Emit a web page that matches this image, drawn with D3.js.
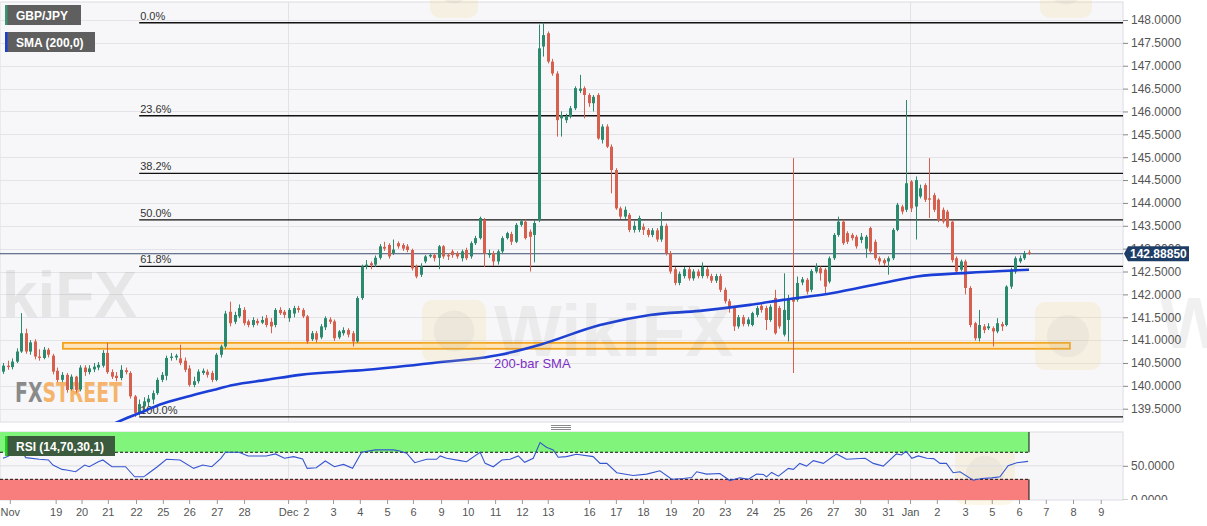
<!DOCTYPE html>
<html><head><meta charset="utf-8">
<script src="https://cdn.jsdelivr.net/npm/d3@7/dist/d3.min.js"></script>
<style>body{margin:0;background:#fff;}svg{display:block;font-family:"Liberation Sans",Arial,sans-serif;}</style>
</head><body><svg id="c" width="1207" height="526"></svg>
<script>
// ---- DATA ----
const pair = "GBP/JPY";
// 4H candles: [open, high, low, close]
const ohlc = [
[140.31,140.50,140.26,140.44],[140.44,140.55,140.35,140.41],[140.41,140.60,140.36,140.53],[140.53,140.82,140.50,140.75],
[140.75,141.59,140.72,141.15],[141.15,141.25,140.70,140.75],[140.75,141.00,140.68,140.95],[140.97,141.02,140.58,140.64],
[140.64,140.80,140.55,140.61],[140.61,140.85,140.58,140.79],[140.79,140.83,140.62,140.68],[140.66,140.70,140.25,140.31],
[140.33,140.40,140.08,140.13],[140.13,140.30,140.08,140.24],[140.24,140.28,139.85,139.91],[139.93,140.25,139.90,140.20],
[140.20,140.22,139.85,139.91],[139.92,140.45,139.88,140.40],[140.40,140.45,140.22,140.30],[140.30,140.45,140.25,140.38],
[140.36,140.50,140.30,140.42],[140.40,140.52,140.34,140.46],[140.44,140.78,140.40,140.72],[140.72,140.94,140.26,140.30],
[140.30,140.36,140.15,140.20],[140.22,140.30,140.10,140.17],[140.17,140.45,140.12,140.35],[140.34,140.40,140.25,140.30],
[140.28,140.32,139.72,139.77],[139.77,139.80,139.32,139.41],[139.42,139.70,139.35,139.60],[139.55,139.75,139.45,139.66],
[139.64,139.80,139.55,139.72],[139.70,139.90,139.60,139.84],[139.84,140.18,139.80,140.13],[140.13,140.30,140.08,140.24],
[140.22,140.66,140.12,140.61],[140.61,140.72,140.55,140.64],[140.62,140.70,140.56,140.66],[140.60,140.90,140.45,140.50],
[140.55,140.62,140.30,140.35],[140.38,140.45,139.98,140.02],[140.02,140.20,139.97,140.10],[140.10,140.36,140.05,140.31],
[140.28,140.38,140.24,140.33],[140.31,140.36,140.18,140.24],[140.28,140.33,140.08,140.13],[140.13,140.72,140.10,140.68],
[140.68,140.90,140.62,140.86],[140.86,141.64,140.82,141.58],[141.62,141.84,141.30,141.37],[141.40,141.62,141.35,141.55],
[141.52,141.78,141.48,141.70],[141.66,141.72,141.32,141.37],[141.41,141.45,141.28,141.33],[141.33,141.50,141.28,141.44],
[141.42,141.47,141.32,141.37],[141.38,141.52,141.35,141.44],[141.48,141.55,141.28,141.33],[141.40,141.48,141.15,141.30],
[141.33,141.70,141.28,141.66],[141.66,141.72,141.55,141.59],[141.62,141.66,141.48,141.55],[141.48,141.70,141.40,141.66],
[141.58,141.75,141.50,141.70],[141.70,141.75,141.60,141.66],[141.66,141.70,141.48,141.52],[141.52,141.55,140.92,140.97],
[141.02,141.20,140.98,141.15],[141.15,141.20,140.95,141.01],[141.06,141.35,141.02,141.30],[141.28,141.52,141.22,141.48],
[141.45,141.50,141.35,141.40],[141.41,141.45,140.98,141.04],[141.06,141.22,141.02,141.19],[141.15,141.28,141.10,141.22],
[141.22,141.26,141.06,141.12],[141.15,141.20,140.86,140.97],[140.97,141.96,140.94,141.92],[141.92,142.65,141.88,142.61],
[142.61,142.75,142.55,142.65],[142.68,142.72,142.55,142.64],[142.65,142.85,142.60,142.80],[142.80,143.10,142.76,143.05],
[143.04,143.15,142.95,143.00],[143.08,143.12,142.78,142.83],[142.90,143.20,142.86,142.98],[143.12,143.16,143.00,143.05],
[143.08,143.12,142.95,143.00],[143.05,143.10,142.92,142.97],[142.97,143.00,142.52,142.57],[142.61,142.65,142.35,142.39],
[142.43,142.68,142.38,142.61],[142.72,142.86,142.68,142.83],[142.83,142.90,142.80,142.86],[142.86,142.90,142.72,142.79],
[142.80,143.08,142.55,143.05],[143.05,143.08,142.78,142.83],[142.86,142.90,142.75,142.83],[142.94,142.98,142.80,142.86],
[142.90,142.94,142.78,142.83],[142.79,142.98,142.72,142.94],[142.97,143.02,142.75,142.79],[142.83,143.16,142.78,143.12],
[143.12,143.28,143.08,143.23],[143.23,143.70,143.20,143.67],[143.63,143.67,142.60,142.90],[142.86,142.98,142.80,142.90],
[142.90,142.95,142.62,142.72],[142.72,142.98,142.65,142.94],[142.94,143.27,142.90,143.23],[143.23,143.37,143.20,143.34],
[143.32,143.37,143.08,143.15],[143.15,143.56,143.12,143.52],[143.52,143.64,143.48,143.60],[143.59,143.64,143.20,143.23],
[143.37,143.42,142.50,143.26],[143.30,143.62,142.70,143.56],[143.63,147.90,143.58,147.38],[147.42,147.94,147.20,147.67],
[147.71,147.75,147.05,147.09],[147.09,147.15,146.78,146.83],[146.83,146.88,145.45,145.81],[145.85,146.00,145.45,145.92],
[145.81,145.95,145.75,145.89],[145.89,146.12,145.85,146.07],[146.07,146.55,146.03,146.51],[146.45,146.80,146.40,146.50],
[146.51,146.55,145.85,146.36],[146.36,146.40,146.10,146.18],[146.18,146.36,146.00,146.32],[146.36,146.40,145.38,145.41],
[145.38,145.72,145.30,145.67],[145.67,145.72,145.20,145.23],[145.23,145.28,144.21,144.72],[144.72,144.76,143.85,143.88],
[143.88,143.92,143.65,143.70],[143.70,143.92,143.65,143.85],[143.74,143.78,143.36,143.41],[143.41,143.60,143.35,143.50],
[143.41,143.72,143.36,143.67],[143.48,143.55,143.30,143.41],[143.41,143.45,143.25,143.30],[143.30,143.45,143.25,143.40],
[143.40,143.45,143.15,143.20],[143.20,143.80,143.15,143.50],[143.50,143.55,142.85,142.90],[142.90,142.95,142.45,142.50],
[142.55,142.60,142.20,142.25],[142.25,142.50,142.20,142.45],[142.40,142.60,142.35,142.55],[142.55,142.60,142.30,142.35],
[142.35,142.55,142.30,142.50],[142.50,142.55,142.35,142.40],[142.40,142.70,142.35,142.60],[142.55,142.60,142.35,142.40],
[142.40,142.45,142.25,142.30],[142.30,142.45,142.25,142.40],[142.40,142.45,142.05,142.10],[142.10,142.15,141.80,141.85],
[141.85,141.90,141.60,141.70],[141.70,141.75,141.20,141.30],[141.30,141.55,141.25,141.50],[141.50,141.55,141.30,141.35],
[141.35,141.50,141.30,141.45],[141.33,141.62,141.30,141.59],[141.55,141.75,141.50,141.70],[141.75,141.80,141.60,141.66],
[141.70,141.75,141.22,141.44],[141.44,141.78,141.40,141.73],[141.92,142.10,141.12,141.15],[141.70,141.75,141.25,141.30],
[141.12,142.46,141.08,141.66],[141.44,141.99,140.97,141.92],[141.92,144.98,140.28,141.84],[141.88,142.39,141.84,142.25],
[142.26,142.38,142.20,142.33],[142.32,142.36,142.00,142.06],[142.10,142.55,142.05,142.51],[142.50,142.68,142.46,142.61],
[142.57,142.61,142.30,142.46],[142.54,142.58,142.00,142.17],[142.28,142.83,142.24,142.79],[142.79,143.34,142.75,143.30],
[143.30,143.70,143.26,143.59],[143.59,143.63,143.08,143.12],[143.34,143.38,143.10,143.15],[143.30,143.34,143.18,143.23],
[143.26,143.30,143.00,143.05],[143.19,143.34,143.12,143.26],[143.00,143.30,142.80,143.26],[143.45,143.48,142.90,142.94],
[143.15,143.20,142.75,142.79],[142.79,142.83,142.65,142.72],[142.75,142.79,142.62,142.68],[142.72,142.83,142.43,142.79],
[142.79,143.45,142.75,143.41],[143.41,144.00,143.38,143.96],[143.92,143.96,143.75,143.81],[143.85,146.25,143.80,144.43],
[144.47,144.50,143.80,143.88],[143.92,144.58,143.20,144.50],[144.14,144.40,144.10,144.32],[144.39,144.43,144.02,144.07],
[144.10,144.98,143.67,144.07],[144.17,144.22,143.80,143.85],[144.07,144.10,143.58,143.63],[143.85,143.90,143.55,143.59],
[143.81,143.85,143.45,143.48],[143.59,143.63,142.70,142.75],[142.79,142.83,142.45,142.50],[142.54,142.76,142.50,142.72],
[142.72,142.76,142.00,142.14],[142.14,142.18,141.28,141.33],[141.37,141.40,140.99,141.04],[141.04,141.66,140.97,141.33],
[141.30,141.35,141.15,141.22],[141.26,141.37,141.22,141.30],[141.26,141.30,140.86,141.19],[141.19,141.48,141.15,141.37],
[141.35,141.40,141.20,141.30],[141.33,142.20,141.30,142.17],[142.17,142.58,142.12,142.54],[142.50,142.83,142.45,142.79],
[142.72,142.85,142.68,142.79],[142.79,142.95,142.75,142.90],[142.92,142.97,142.86,142.8885]
];
// 200-bar SMA readings (candle index, value)
const smaIdx = [22,25.3,30.2,34.6,40.5,46.3,50.7,58.1,65.4,80.2,94.7,109.5,118.3,131.5,142.5,153.5,164.5,171.8,182.8,193.8,201.3,212.3,226];
const smaVal = [139.05,139.21,139.41,139.59,139.76,139.91,140.02,140.13,140.24,140.35,140.50,140.68,140.90,141.33,141.55,141.64,141.77,141.88,142.03,142.25,142.39,142.47,142.54];
// RSI(14) readings (candle index, value)
const rsiIdx = [0,1,4,5,8,10,11,13,14,16,18,19,21,22,24,27,29,31,32,34,36,39,42,44,46,48,49,52,54,58,60,62,64,66,67,69,71,73,75,77,79,82,86,87.4,
 88.9,90.7,93.3,95.5,96.3,97.7,100.7,102.1,105.1,106.2,108,109.9,111.7,113.5,114.9,116.8,118.3,119.7,121.2,122.3,124.1,126.3,130,131.5,133,135.2,138.8,141.8,144.7,147.3,149.9,151.7,152.8,155,157.9,160.1,162.3,164.2,166,167.5,168.2,169.3,170.8,173,174.1,175.5,
 177,178.5,180.7,183.6,185.8,189.9,191.7,193.9,196.8,197.9,198.9,200.2,201.6,203.5,205,206.4,207.8,209.3,210.8,213.7,215.6,217.8,219.6,221.4,223.3,225.8];
const rsiVal = [61.1,63.6,74.5,62.1,59.6,58.6,51.1,44.7,43.7,41.2,51.1,48.6,56.1,58.6,48.6,48.6,33.7,33.7,38.7,48.6,59.6,58.6,46.2,51.1,48.6,61.1,70,70,64.6,64.6,67.6,61.1,63.6,60.1,46.2,47.2,57.1,48.6,52.1,46.2,70,73.5,73.5,72,
 68.6,54.6,59.6,59.6,64.6,61.1,57.6,56.1,70,53.6,48.6,58.6,59.6,64.6,55.1,61.1,84.3,77.5,73.5,62.6,63.6,67.1,63.6,53.6,53.6,39.7,35.7,37.7,42.7,30.2,31.2,32.7,41.2,37.7,38.7,28.2,32.2,30.2,37.7,37.2,33.7,40.2,34.7,46.2,44.7,53.6,
 49.6,57.6,53.6,67.6,59.6,61.1,53.6,49.6,67.6,66.1,71.5,61.1,64.6,61.1,60.6,53.6,53.6,39.7,41.2,28.7,31.2,32.2,33.7,50.1,54.6,56.6];
const fibRatios = [0, 0.236, 0.382, 0.5, 0.618, 1];
const supportZone = [140.81, 140.94];
const priceTicks = d3.range(139.5, 148.001, 0.5);
const rsiTicks = [0, 50];
const rsiBands = [30, 70];
const xTickLabels = ["Nov","19","20","21","22","25","26","27","28","Dec","2","3","4","5","6","9","10","11","12","13","16","17","18","19","20","23","24","25","26","27","30","31","Jan","2","3","5","6","7","8","9"];
const xTickIdx = [1.5,11.6,17.3,23.1,29.3,35.2,41.0,47.1,53.1,62.8,66.7,72.7,78.6,84.6,90.3,96.5,102.4,108.4,114.3,120.0,129.1,135.0,141.0,147.1,153.1,159.0,165.0,170.9,176.9,182.8,188.8,194.9,199.8,205.7,211.9,217.8,223.8,229.7,235.7,241.8];
const monthLines = ["Dec","Jan"];

// ---- LAYOUT ----
const svg = d3.select("#c");
const P = {l:0, r:1123, t:2, b:422};
const R = {t:432, b:500};
const x = d3.scaleLinear().domain([0, ohlc.length-1]).range([3, 1029]);
const y = d3.scaleLinear().domain([139.5, 148]).range([408.7, 20]);
const yR = d3.scaleLinear().domain([0, 100]).range([499.6, 432]);
const UP = "#2b8a6e", DN = "#d6604d";

svg.append("rect").attr("width",1207).attr("height",526).attr("fill","#fff");
svg.append("rect").attr("x",P.l).attr("y",P.t).attr("width",P.r-P.l).attr("height",P.b-P.t).attr("fill","#f7f7f9").attr("stroke","#dcdce4");
svg.append("rect").attr("x",P.l).attr("y",R.t).attr("width",P.r-P.l).attr("height",R.b-R.t).attr("fill","#f7f7f9").attr("stroke","#dcdce4");

const defs = svg.append("defs");
defs.append("clipPath").attr("id","cp").append("rect").attr("x",P.l).attr("y",P.t).attr("width",P.r-P.l).attr("height",P.b-P.t);
defs.append("clipPath").attr("id","cr").append("rect").attr("x",P.l).attr("y",R.t).attr("width",P.r-P.l).attr("height",R.b-R.t);
defs.append("clipPath").attr("id","ca").append("rect").attr("x",1123).attr("y",R.t-8).attr("width",90).attr("height",R.b-R.t+8);

// gridlines
const main = svg.append("g").attr("clip-path","url(#cp)");
main.selectAll("line.g").data(priceTicks).join("line")
  .attr("x1",P.l).attr("x2",P.r).attr("y1",d=>Math.round(y(d))+0.5).attr("y2",d=>Math.round(y(d))+0.5)
  .attr("stroke","#e4e4e8");
const monthIdx = monthLines.map(m => xTickIdx[xTickLabels.indexOf(m)]);
main.selectAll("line.v").data(monthIdx).join("line")
  .attr("x1",d=>Math.round(x(d))+0.5).attr("x2",d=>Math.round(x(d))+0.5).attr("y1",P.t).attr("y2",P.b).attr("stroke","#e2e2e6");

// FXSTREET logo
const fx = main.append("text").attr("x",15).attr("y",402).attr("font-family","'DejaVu Sans Condensed','DejaVu Sans',sans-serif")
  .attr("font-weight","bold").attr("font-size",27).attr("textLength",107).attr("lengthAdjust","spacingAndGlyphs");
fx.append("tspan").attr("fill","#8a8a8a").text("FX");
fx.append("tspan").attr("fill","#f5b46c").text("STREET");

// support zone
main.append("rect").attr("x",x(13.2)).attr("width",x(235)-x(13.2))
  .attr("y",y(supportZone[1])).attr("height",y(supportZone[0])-y(supportZone[1]))
  .attr("fill","#fde6bd").attr("stroke","#f4a21c").attr("stroke-width",1.8);

// fibonacci
const hi = d3.max(ohlc, d=>d[1]), lo = d3.min(ohlc, d=>d[2]);
const fib = fibRatios.map(r => ({r, v: hi - r*(hi-lo)}));
const fibX0 = x(30);
main.selectAll("line.fib").data(fib).join("line")
  .attr("x1",fibX0).attr("x2",P.r).attr("y1",d=>y(d.v)).attr("y2",d=>y(d.v)).attr("stroke","#111").attr("stroke-width",1.3);
main.selectAll("text.fib").data(fib).join("text")
  .attr("x",fibX0+1).attr("y",d=>y(d.v)-3).attr("font-size",11).attr("fill","#333")
  .text(d=>d3.format(".1%")(d.r));

// current price line
const last = ohlc[ohlc.length-1][3];
main.append("line").attr("x1",P.l).attr("x2",P.r).attr("y1",y(last)).attr("y2",y(last)).attr("stroke","#3c4e6e").attr("stroke-width",1);

// candles
const cg = main.append("g");
cg.selectAll("line.w").data(ohlc).join("line")
  .attr("x1",(d,i)=>Math.round(x(i))+0.5).attr("x2",(d,i)=>Math.round(x(i))+0.5)
  .attr("y1",d=>y(d[1])).attr("y2",d=>y(d[2])).attr("stroke",d=>d[3]>=d[0]?UP:DN).attr("stroke-width",1);
cg.selectAll("rect.b").data(ohlc).join("rect")
  .attr("x",(d,i)=>Math.round(x(i))-1).attr("width",3)
  .attr("y",d=>y(Math.max(d[0],d[3]))).attr("height",d=>Math.max(1,Math.abs(y(d[0])-y(d[3]))))
  .attr("fill",d=>d[3]>=d[0]?UP:DN);

// SMA
const smaPts = smaIdx.map((v,i)=>[v, smaVal[i]]);
main.append("path").datum(smaPts)
  .attr("d", d3.line().x(d=>x(d[0])).y(d=>y(d[1])).curve(d3.curveMonotoneX))
  .attr("fill","none").attr("stroke","#1b3fd6").attr("stroke-width",2.6);
main.append("text").attr("x",494).attr("y",368).attr("font-size",13).attr("fill","#7c2fc4").text("200-bar SMA");

// watermarks
const wm = svg.append("g").attr("pointer-events","none");
wm.append("text").attr("x",137).attr("y",317).attr("text-anchor","end").attr("font-size",64).attr("font-weight","bold").attr("fill","#777").attr("opacity",0.13).text("WikiFX");
[[422,300,64,62],[1035,302,66,68],[430,-42,48,60],[1040,-42,52,60],[955,445,60,60]].forEach(b=>{
  wm.append("rect").attr("x",b[0]).attr("y",b[1]).attr("width",b[2]).attr("height",b[3]).attr("rx",10).attr("fill","#f2cf6a").attr("opacity",0.16);
  wm.append("circle").attr("cx",b[0]+b[2]/2).attr("cy",b[1]+b[3]/2).attr("r",b[2]*0.32).attr("fill","#999").attr("opacity",0.1);
});
wm.append("text").attr("x",494).attr("y",356).attr("font-size",72).attr("font-weight","bold").attr("fill","#777").attr("opacity",0.09).text("WikiFX");
wm.append("text").attr("x",1160).attr("y",348).attr("font-size",72).attr("font-weight","bold").attr("fill","#777").attr("opacity",0.1).text("W");

// price axis
const ay = svg.append("g").attr("transform",`translate(${P.r},0)`)
  .call(d3.axisRight(y).tickValues(priceTicks).tickFormat(d3.format(".4f")).tickSize(5).tickPadding(3));
ay.select(".domain").remove();
ay.selectAll("line").attr("stroke","#888");
ay.selectAll("text").attr("font-size",12).attr("fill","#555").attr("font-family","'Liberation Sans',Arial,sans-serif");

// price label
const ly = y(last);
svg.append("path").attr("d",`M${P.r+1},${ly} L${P.r+5},${ly-7.5} L${P.r+66},${ly-7.5} L${P.r+66},${ly+7.5} L${P.r+5},${ly+7.5} Z`).attr("fill","#1d3c66");
svg.append("text").attr("x",P.r+7).attr("y",ly+4.5).attr("font-size",12).attr("font-weight","bold").attr("fill","#fff").text(d3.format(".5f")(last));

// legends
function legend(x0,y0,w,txt,bar){
  svg.append("rect").attr("x",x0).attr("y",y0).attr("width",w).attr("height",20).attr("fill","#5f5f5f");
  svg.append("rect").attr("x",x0).attr("y",y0).attr("width",2.5).attr("height",20).attr("fill",bar);
  svg.append("text").attr("x",x0+11).attr("y",y0+14.5).attr("font-size",12).attr("font-weight","bold").attr("fill","#fff").text(txt);
}
legend(5,5,76,pair,"#3d9470");
legend(5,32,90,"SMA (200,0)","#1b3fd6");

// divider handle
[425.5,427.5,429.5].forEach(v=>svg.append("line").attr("x1",551).attr("x2",571).attr("y1",v).attr("y2",v).attr("stroke","#8a8a8a"));

// RSI panel
const rg = svg.append("g").attr("clip-path","url(#cr)");
rg.append("line").attr("x1",P.l).attr("x2",P.r).attr("y1",yR(50)).attr("y2",yR(50)).attr("stroke","#dedee3");
rg.selectAll("line.v").data(monthIdx).join("line")
  .attr("x1",d=>Math.round(x(d))+0.5).attr("x2",d=>Math.round(x(d))+0.5).attr("y1",R.t).attr("y2",R.b).attr("stroke","#e2e2e6");
const zx1 = x(ohlc.length-1);
rg.append("rect").attr("x",0).attr("y",yR(100)).attr("width",zx1).attr("height",yR(rsiBands[1])-yR(100)).attr("fill","#80f47b");
rg.append("rect").attr("x",0).attr("y",yR(rsiBands[0])).attr("width",zx1).attr("height",R.b-yR(rsiBands[0])).attr("fill","#f87e7e");
rg.selectAll("line.band").data(rsiBands).join("line")
  .attr("x1",0).attr("x2",zx1).attr("y1",d=>yR(d)).attr("y2",d=>yR(d)).attr("stroke","#111").attr("stroke-dasharray","3,2");
rg.append("line").attr("x1",zx1).attr("x2",zx1).attr("y1",yR(100)).attr("y2",yR(rsiBands[1])).attr("stroke","#111");
rg.append("line").attr("x1",zx1).attr("x2",zx1).attr("y1",yR(rsiBands[0])).attr("y2",R.b).attr("stroke","#111");
const rsiPts = rsiIdx.map((v,i)=>[v, rsiVal[i]]);
rg.append("path").datum(rsiPts).attr("d", d3.line().x(d=>x(d[0])).y(d=>yR(d[1])))
  .attr("fill","none").attr("stroke","#3556cf").attr("stroke-width",1.1);
svg.append("rect").attr("x",5).attr("y",436).attr("width",110).attr("height",20).attr("fill","#3c5b3e");
svg.append("rect").attr("x",5).attr("y",436).attr("width",2.5).attr("height",20).attr("fill","#22d022");
svg.append("text").attr("x",16).attr("y",450.5).attr("font-size",12).attr("font-weight","bold").attr("fill","#fff").text("RSI (14,70,30,1)");

const ar = svg.append("g").attr("clip-path","url(#ca)").append("g").attr("transform",`translate(${P.r},0)`)
  .call(d3.axisRight(yR).tickValues(rsiTicks).tickFormat(d3.format(".4f")).tickSize(5).tickPadding(3));
ar.select(".domain").remove();
ar.selectAll("line").attr("stroke","#888");
ar.selectAll("text").attr("font-size",12).attr("fill","#555");

// x axis
const ax = svg.append("g").attr("transform",`translate(0,${R.b})`)
  .call(d3.axisBottom(x).tickValues(xTickIdx).tickFormat((d,i)=>xTickLabels[i]).tickSize(4).tickPadding(4));
ax.select(".domain").remove();
ax.selectAll("line").attr("stroke","#999");
ax.selectAll("text").attr("font-size",11).attr("fill","#555");
</script></body></html>
